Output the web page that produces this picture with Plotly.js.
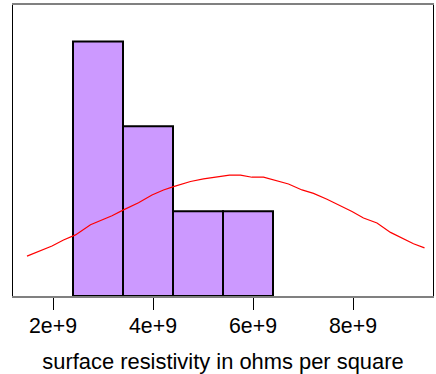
<!DOCTYPE html>
<html>
<head>
<meta charset="utf-8">
<script src="https://cdn.plot.ly/plotly-3.0.1.min.js"></script>
<style>
  html, body { margin: 0; padding: 0; background: #fff; }
  #chart { width: 436px; height: 374px; }
</style>
</head>
<body>
<div id="chart"></div>
<script>
// Histogram bins (ohms per square) and counts
const binStarts = [2.4e9, 3.4e9, 4.4e9, 5.4e9];
const binWidth = 1e9;
const binCounts = [3, 2, 1, 1];

// Fitted density curve, scaled to counts
const curveX = [1.48e9, 1.75e9, 1.98e9, 2.21e9, 2.45e9, 2.75e9, 2.98e9, 3.18e9, 3.41e9, 3.71e9,
                3.98e9, 4.21e9, 4.41e9, 4.75e9, 5.01e9, 5.53e9, 5.75e9, 5.98e9, 6.21e9, 6.51e9,
                6.71e9, 6.98e9, 7.21e9, 7.48e9, 7.71e9, 7.98e9, 8.21e9, 8.48e9, 8.75e9, 8.98e9,
                9.21e9, 9.43e9];
const curveY = [0.47, 0.535, 0.59, 0.66, 0.72, 0.84, 0.90, 0.945, 1.015, 1.10,
                1.19, 1.25, 1.29, 1.35, 1.38, 1.425, 1.425, 1.40, 1.40, 1.35,
                1.32, 1.25, 1.21, 1.14, 1.075, 0.995, 0.92, 0.86, 0.75, 0.68,
                0.615, 0.567];

// Tick labels
const tickVals = [2e9, 4e9, 6e9, 8e9];
const tickText = ['2e+9', '4e+9', '6e+9', '8e+9'];

const barCenters = binStarts.map(s => s + binWidth / 2);

const traces = [
  {
    type: 'bar',
    x: barCenters,
    y: binCounts,
    width: binStarts.map(() => binWidth),
    marker: { color: '#CC99FF', line: { color: '#000000', width: 2 } },
    hoverinfo: 'skip'
  },
  {
    type: 'scatter',
    mode: 'lines',
    x: curveX,
    y: curveY,
    line: { color: '#FF0000', width: 1.2 },
    hoverinfo: 'skip'
  }
];

const layout = {
  width: 436,
  height: 374,
  margin: { l: 13, r: 3, t: 5, b: 78 },
  paper_bgcolor: '#ffffff',
  plot_bgcolor: '#ffffff',
  showlegend: false,
  font: { family: 'Liberation Sans, Arial, sans-serif', color: '#000000' },
  bargap: 0,
  xaxis: {
    range: [1.2e9, 9.6e9],
    tickmode: 'array',
    tickvals: tickVals,
    ticktext: tickText,
    ticks: 'outside',
    ticklen: 12,
    tickwidth: 1,
    tickcolor: '#000000',
    ticklabelstandoff: -3,
    tickfont: { size: 21.3, color: '#000000' },
    showgrid: false,
    zeroline: false,
    showline: true,
    linecolor: '#808080',
    linewidth: 2,
    mirror: true,
    title: { text: 'surface resistivity in ohms per square', font: { size: 21.9, color: '#000000' }, standoff: 17 }
  },
  yaxis: {
    range: [0, 3.43],
    showticklabels: false,
    ticks: '',
    showgrid: false,
    zeroline: false,
    showline: true,
    linecolor: '#000000',
    linewidth: 1,
    mirror: true
  }
};

Plotly.newPlot('chart', traces, layout, { displayModeBar: false, staticPlot: true });
</script>
</body>
</html>
